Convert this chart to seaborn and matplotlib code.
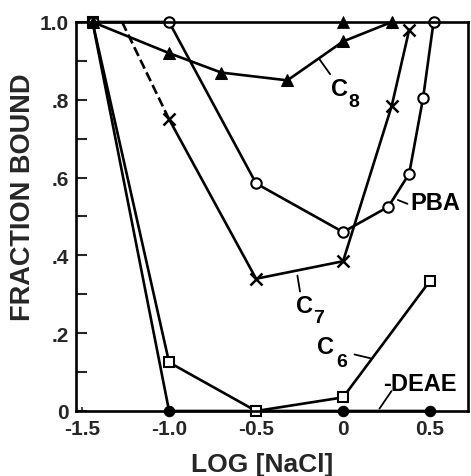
import matplotlib
matplotlib.use("Agg")
import matplotlib.pyplot as plt
import seaborn as sns
import numpy as np

sns.set_style("white")
plt.rcParams['font.family'] = ['Liberation Sans', 'DejaVu Sans']
plt.rcParams['font.weight'] = 'bold'

# Data
c8_x = [-1.44, -1.0, -0.7, -0.32, 0.0, 0.28]
c8_y = [1.0, 0.92, 0.87, 0.85, 0.95, 1.0]
c8_extra_x = [0.0]
c8_extra_y = [1.0]

pba_x = [-1.44, -1.0, -0.5, 0.0, 0.26, 0.38, 0.46, 0.52]
pba_y = [1.0, 1.0, 0.585, 0.46, 0.525, 0.61, 0.805, 1.0]

c7_dash_x = [-1.27, -1.0]
c7_dash_y = [1.0, 0.75]
c7_x = [-1.0, -0.5, 0.0, 0.28, 0.38]
c7_y = [0.75, 0.34, 0.385, 0.785, 0.98]

c6_x = [-1.44, -1.0, -0.5, 0.0, 0.5]
c6_y = [1.0, 0.125, 0.0, 0.035, 0.335]

deae_x = [-1.44, -1.0, 0.0, 0.5]
deae_y = [1.0, 0.0, 0.0, 0.0]

xticks = [-1.5, -1.0, -0.5, 0.0, 0.5]
xticklabels = ["-1.5", "-1.0", "-0.5", "0", "0.5"]
yticks = [0, 0.2, 0.4, 0.6, 0.8, 1.0]
yticklabels = ["0", ".2", ".4", ".6", ".8", "1.0"]

fig = plt.figure(figsize=(4.71, 4.77), dpi=100)
ax = fig.add_axes([76/471, 1-412/477, (468-76)/471, (412-23)/477])

lw = 1.9
common = dict(color='black', linewidth=lw, sort=False, estimator=None, ax=ax, clip_on=False)

sns.lineplot(x=deae_x, y=deae_y, marker='o', markersize=7.5, markerfacecolor='black',
             markeredgecolor='black', **common)
sns.lineplot(x=c6_x, y=c6_y, marker='s', markersize=7.5, markerfacecolor='white',
             markeredgecolor='black', markeredgewidth=1.5, **common)
sns.lineplot(x=c7_dash_x, y=c7_dash_y, linestyle='--', dashes=(4, 2.5), **common)
sns.lineplot(x=c7_x, y=c7_y, marker='x', markersize=8, markeredgewidth=1.8,
             markeredgecolor='black', **common)
sns.lineplot(x=pba_x, y=pba_y, marker='o', markersize=7.5, markerfacecolor='white',
             markeredgecolor='black', markeredgewidth=1.5, **common)
sns.lineplot(x=c8_x, y=c8_y, marker='^', markersize=8.5, markerfacecolor='black',
             markeredgecolor='black', **common)
sns.scatterplot(x=c8_extra_x, y=c8_extra_y, marker='^', s=75, color='black',
                edgecolor='black', linewidth=0.5, ax=ax, clip_on=False, zorder=5)

ax.set_xlim(-1.535, 0.718)
ax.set_ylim(0, 1.0)

ax.set_xticks(xticks)
ax.set_xticklabels(xticklabels)
ax.set_yticks(yticks)
ax.set_yticklabels(yticklabels)
ax.set_yticks(np.arange(0.1, 1.0, 0.2), minor=True)
ax.tick_params(axis='y', which='both', direction='in', length=8, width=1.5, left=True,
               labelsize=15, pad=5)
ax.tick_params(axis='x', which='major', direction='in', length=3, width=1.2, bottom=True,
               labelsize=15, pad=6)
for lab in ax.get_xticklabels() + ax.get_yticklabels():
    lab.set_fontweight('bold')

for s in ax.spines.values():
    s.set_color('black')
    s.set_linewidth(1.9)

ax.set_xlabel("LOG [NaCl]", fontsize=19, fontweight='bold')
ax.set_ylabel("FRACTION BOUND", fontsize=19.5, fontweight='bold')
ax.xaxis.set_label_coords(0.474, -0.136)
ax.xaxis.label.set_va('center')
ax.yaxis.set_label_coords(-0.136, 0.553)
ax.yaxis.label.set_va('center')

tfont = dict(fontsize=17, fontweight='bold', color='black')
sfont = dict(fontsize=14, fontweight='bold', color='black')
lead = dict(arrowstyle='-', color='black', lw=1.3)

# C8 label
ax.annotate("", xy=(-0.145, 0.91), xytext=(-0.065, 0.86), arrowprops=lead)
ax.text(-0.07, 0.828, "C", ha='left', va='center', **tfont)
ax.text(0.03, 0.795, "8", ha='left', va='center', **sfont)

# PBA label
ax.annotate("", xy=(0.3, 0.545), xytext=(0.385, 0.53), arrowprops=lead)
ax.text(0.385, 0.537, "PBA", ha='left', va='center', **tfont)

# C7 label
ax.annotate("", xy=(-0.265, 0.355), xytext=(-0.245, 0.3), arrowprops=lead)
ax.text(-0.27, 0.27, "C", ha='left', va='center', **tfont)
ax.text(-0.175, 0.24, "7", ha='left', va='center', **sfont)

# C6 label
ax.annotate("", xy=(0.172, 0.134), xytext=(0.05, 0.147), arrowprops=lead)
ax.text(-0.15, 0.165, "C", ha='left', va='center', **tfont)
ax.text(-0.04, 0.128, "6", ha='left', va='center', **sfont)

# DEAE label
ax.annotate("", xy=(0.2, 0.0), xytext=(0.287, 0.057), arrowprops=lead)
ax.text(0.23, 0.07, "-DEAE", ha='left', va='center', **tfont)

fig.savefig("out.png", dpi=100)
